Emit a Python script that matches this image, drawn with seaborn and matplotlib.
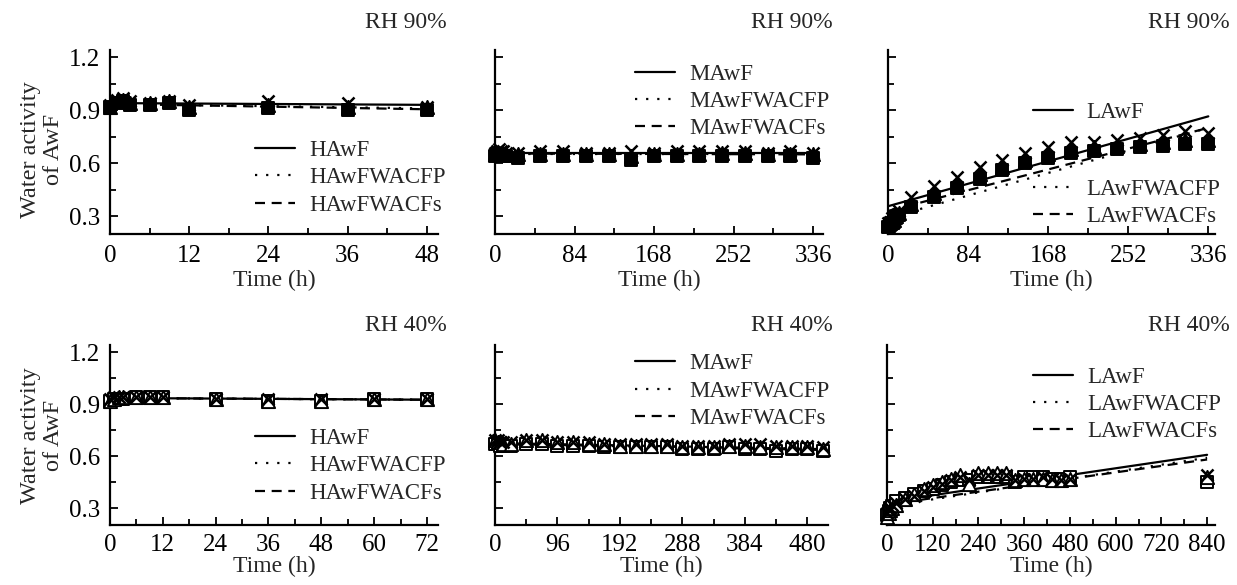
import matplotlib
matplotlib.use('Agg')
import matplotlib.pyplot as plt
import seaborn as sns
from matplotlib.lines import Line2D
from matplotlib.ticker import MultipleLocator, FormatStrFormatter

sns.set_theme(style='ticks')
plt.rcParams['font.family'] = ['Liberation Serif', 'DejaVu Serif']

# ---- RH 90% ----
t_h90 = [0, 1, 2, 3, 6, 9, 12, 24, 36, 48]
h90_awf = [0.93, 0.96, 0.97, 0.95, 0.94, 0.95, 0.93, 0.95, 0.94, 0.92]
h90_fp = [0.92, 0.95, 0.96, 0.94, 0.94, 0.95, 0.92, 0.93, 0.92, 0.92]
h90_fs = [0.92, 0.94, 0.95, 0.93, 0.93, 0.94, 0.90, 0.91, 0.90, 0.90]
fit_h90_t = [0, 48]
fit_h90_awf = [0.94, 0.93]
fit_h90_fp = [0.935, 0.91]
fit_h90_fs = [0.935, 0.905]

t_m90 = [0, 2, 4, 6, 8, 12, 24, 48, 72, 96, 120, 144, 168, 192, 216, 240, 264, 288, 312, 336]
m90_awf = [0.66, 0.67, 0.68, 0.67, 0.67, 0.66, 0.66, 0.67, 0.67, 0.66, 0.66, 0.67, 0.66, 0.67, 0.67, 0.67, 0.67, 0.66, 0.67, 0.66]
m90_fp = [0.65, 0.66, 0.66, 0.66, 0.65, 0.65, 0.65, 0.65, 0.65, 0.65, 0.65, 0.64, 0.65, 0.65, 0.65, 0.66, 0.66, 0.65, 0.65, 0.65]
m90_fs = [0.64, 0.65, 0.65, 0.64, 0.64, 0.64, 0.63, 0.64, 0.64, 0.64, 0.64, 0.62, 0.64, 0.64, 0.64, 0.64, 0.64, 0.64, 0.64, 0.63]
fit_m90_t = [0, 336]
fit_m90_awf = [0.66, 0.66]
fit_m90_fp = [0.65, 0.65]
fit_m90_fs = [0.655, 0.65]

t_l90 = [0, 2, 4, 6, 8, 12, 24, 48, 72, 96, 120, 144, 168, 192, 216, 240, 264, 288, 312, 336]
l90_awf = [0.26, 0.27, 0.29, 0.30, 0.31, 0.33, 0.41, 0.47, 0.52, 0.58, 0.62, 0.66, 0.69, 0.72, 0.72, 0.73, 0.74, 0.76, 0.78, 0.77]
l90_fp = [0.25, 0.26, 0.27, 0.28, 0.30, 0.32, 0.37, 0.43, 0.48, 0.54, 0.58, 0.62, 0.65, 0.68, 0.69, 0.70, 0.71, 0.72, 0.73, 0.73]
l90_fs = [0.24, 0.25, 0.26, 0.27, 0.29, 0.31, 0.35, 0.41, 0.46, 0.51, 0.56, 0.60, 0.63, 0.66, 0.67, 0.68, 0.69, 0.70, 0.71, 0.71]
fit_l90_t = [0, 336]
fit_l90_awf = [0.357, 0.865]
fit_l90_fp = [0.29, 0.80]
fit_l90_fs = [0.33, 0.80]

# ---- RH 40% ----
t_h40 = [0, 1, 2, 3, 6, 9, 12, 24, 36, 48, 60, 72]
h40_awf = [0.93, 0.94, 0.94, 0.94, 0.94, 0.94, 0.94, 0.93, 0.93, 0.93, 0.93, 0.93]
h40_fp = [0.92, 0.93, 0.94, 0.94, 0.94, 0.94, 0.94, 0.93, 0.92, 0.92, 0.93, 0.93]
h40_fs = [0.92, 0.93, 0.93, 0.93, 0.94, 0.94, 0.94, 0.93, 0.92, 0.92, 0.93, 0.93]
fit_h40_t = [0, 72]
fit_h40_awf = [0.935, 0.925]
fit_h40_fp = [0.935, 0.925]
fit_h40_fs = [0.935, 0.925]

t_m40 = [0, 4, 8, 12, 24, 48, 72, 96, 120, 144, 168, 192, 216, 240, 264, 288, 312, 336,
         360, 384, 408, 432, 456, 480, 504]
m40_awf = [0.69, 0.69, 0.68, 0.68, 0.68, 0.69, 0.69, 0.68, 0.68, 0.68, 0.67, 0.67, 0.67,
           0.67, 0.67, 0.66, 0.66, 0.66, 0.67, 0.67, 0.67, 0.66, 0.66, 0.66, 0.65]
m40_fp = [0.69, 0.68, 0.68, 0.67, 0.67, 0.69, 0.69, 0.68, 0.68, 0.67, 0.67, 0.66, 0.66,
          0.66, 0.66, 0.65, 0.65, 0.65, 0.66, 0.66, 0.65, 0.65, 0.65, 0.65, 0.64]
m40_fs = [0.67, 0.67, 0.66, 0.66, 0.66, 0.67, 0.67, 0.66, 0.66, 0.66, 0.65, 0.65, 0.65,
          0.65, 0.65, 0.64, 0.64, 0.64, 0.65, 0.64, 0.64, 0.63, 0.64, 0.64, 0.63]
fit_m40_t = [0, 504]
fit_m40_awf = [0.675, 0.64]
fit_m40_fp = [0.67, 0.64]
fit_m40_fs = [0.67, 0.635]

t_l40 = [0, 4, 8, 12, 24, 48, 72, 96, 120, 144, 168, 192, 216, 240, 264, 288, 312, 336,
         360, 384, 408, 432, 456, 480, 840]
l40_awf = [0.27, 0.29, 0.30, 0.32, 0.33, 0.35, 0.37, 0.40, 0.42, 0.44, 0.46, 0.48, 0.46,
           0.49, 0.49, 0.49, 0.49, 0.46, 0.47, 0.47, 0.48, 0.47, 0.46, 0.47, 0.49]
l40_fp = [0.25, 0.27, 0.29, 0.30, 0.32, 0.35, 0.38, 0.41, 0.43, 0.45, 0.47, 0.49, 0.44,
          0.50, 0.50, 0.50, 0.50, 0.46, 0.47, 0.47, 0.47, 0.46, 0.46, 0.47, 0.48]
l40_fs = [0.26, 0.28, 0.30, 0.31, 0.34, 0.36, 0.38, 0.40, 0.41, 0.43, 0.45, 0.46, 0.46,
          0.48, 0.48, 0.48, 0.48, 0.45, 0.48, 0.48, 0.48, 0.47, 0.47, 0.48, 0.45]
fit_l40_t = [0, 840]
fit_l40_awf = [0.335, 0.607]
fit_l40_fp = [0.31, 0.59]
fit_l40_fs = [0.32, 0.58]

styles = ['-', (0, (1, 4)), (0, (4.5, 3))]
FS = 16.5
TICK_FS = 18


def draw(ax, t, awf, fp, fs, ft, fa, ffp, ffs, filled):
    face = 'black' if filled else 'white'
    sns.scatterplot(x=t, y=fs, marker='s', s=85, color=face, edgecolor='black',
                    linewidth=1.4, ax=ax, clip_on=False, zorder=3)
    sns.scatterplot(x=t, y=fp, marker='^', s=90, color=face, edgecolor='black',
                    linewidth=1.4, ax=ax, clip_on=False, zorder=4)
    sns.scatterplot(x=t, y=awf, marker='x', s=75, color='black', linewidth=1.8,
                    ax=ax, clip_on=False, zorder=5)
    for yy, ls in zip([fa, ffp, ffs], styles):
        sns.lineplot(x=ft, y=yy, color='black', linewidth=1.6, linestyle=ls, ax=ax, zorder=2)


def style_axis(ax, xmax, major, minor, ylabels, xpad=8, lpad=2):
    ax.set_xlim(0, xmax)
    ax.set_ylim(0.2, 1.24)
    ax.xaxis.set_major_locator(MultipleLocator(major))
    ax.xaxis.set_minor_locator(MultipleLocator(minor))
    ax.yaxis.set_major_locator(MultipleLocator(0.3))
    ax.yaxis.set_minor_locator(MultipleLocator(0.15))
    ax.yaxis.set_major_formatter(FormatStrFormatter('%.1f'))
    ax.tick_params(which='both', direction='in', width=1.3, colors='black', labelsize=TICK_FS)
    ax.tick_params(which='major', length=6, pad=xpad)
    ax.tick_params(which='minor', length=4)
    ax.tick_params(axis='y', labelleft=ylabels, pad=7)
    sns.despine(ax=ax)
    for sp in ['left', 'bottom']:
        ax.spines[sp].set_linewidth(1.6)
        ax.spines[sp].set_color('black')
    ax.set_xlabel('Time (h)', fontsize=FS + 0.5, labelpad=lpad)
    ax.set_ylabel('')


def legend(ax, labels, idx, x, y):
    handles = [Line2D([], [], color='black', lw=1.6, linestyle=styles[i]) for i in idx]
    return ax.legend(handles, labels, loc='upper left', bbox_to_anchor=(x, y),
                     frameon=False, fontsize=FS, handlelength=1.75, handletextpad=0.6,
                     labelspacing=0.27, borderpad=0, borderaxespad=0)


fig = plt.figure(figsize=(12.37, 5.85), dpi=100)
ax1 = fig.add_axes([0.0889, 0.600, 0.2652, 0.3145])
ax2 = fig.add_axes([0.4002, 0.600, 0.2652, 0.3145])
ax3 = fig.add_axes([0.7179, 0.600, 0.2643, 0.3145])
ax4 = fig.add_axes([0.0889, 0.102, 0.2652, 0.308])
ax5 = fig.add_axes([0.4002, 0.102, 0.2692, 0.308])
ax6 = fig.add_axes([0.7171, 0.102, 0.2652, 0.308])

draw(ax1, t_h90, h90_awf, h90_fp, h90_fs, fit_h90_t, fit_h90_awf, fit_h90_fp, fit_h90_fs, True)
draw(ax2, t_m90, m90_awf, m90_fp, m90_fs, fit_m90_t, fit_m90_awf, fit_m90_fp, fit_m90_fs, True)
draw(ax3, t_l90, l90_awf, l90_fp, l90_fs, fit_l90_t, fit_l90_awf, fit_l90_fp, fit_l90_fs, True)
draw(ax4, t_h40, h40_awf, h40_fp, h40_fs, fit_h40_t, fit_h40_awf, fit_h40_fp, fit_h40_fs, False)
draw(ax5, t_m40, m40_awf, m40_fp, m40_fs, fit_m40_t, fit_m40_awf, fit_m40_fp, fit_m40_fs, False)
draw(ax6, t_l40, l40_awf, l40_fp, l40_fs, fit_l40_t, fit_l40_awf, fit_l40_fp, fit_l40_fs, False)

style_axis(ax1, 49.7, 12, 6, True)
style_axis(ax2, 346.6, 84, 42, False)
style_axis(ax3, 343, 84, 42, False)
style_axis(ax4, 74.5, 12, 6, True, xpad=6, lpad=0)
style_axis(ax5, 512, 96, 48, False, xpad=6, lpad=0)
style_axis(ax6, 861, 120, 60, False, xpad=6, lpad=0)

legend(ax1, ['HAwF', 'HAwFWACFP', 'HAwFWACFs'], [0, 1, 2], 0.442, 0.51)
legend(ax2, ['MAwF', 'MAwFWACFP', 'MAwFWACFs'], [0, 1, 2], 0.427, 0.925)
leg = legend(ax3, ['LAwF'], [0], 0.443, 0.72)
ax3.add_artist(leg)
legend(ax3, ['LAwFWACFP', 'LAwFWACFs'], [1, 2], 0.443, 0.30)
legend(ax4, ['HAwF', 'HAwFWACFP', 'HAwFWACFs'], [0, 1, 2], 0.442, 0.54)
legend(ax5, ['MAwF', 'MAwFWACFP', 'MAwFWACFs'], [0, 1, 2], 0.421, 0.955)
legend(ax6, ['LAwF', 'LAwFWACFP', 'LAwFWACFs'], [0, 1, 2], 0.445, 0.88)

for ax, xr in [(ax1, 1.027), (ax2, 1.03), (ax3, 1.046)]:
    ax.text(xr, 1.152, 'RH 90%', transform=ax.transAxes, ha='right', va='center', fontsize=FS + 0.5)
for ax, xr in [(ax4, 1.027), (ax5, 1.015), (ax6, 1.046)]:
    ax.text(xr, 1.11, 'RH 40%', transform=ax.transAxes, ha='right', va='center', fontsize=FS + 0.5)

fig.text(0.034, 0.744, 'Water activity\nof AwF', rotation=90, ha='center', va='center',
         fontsize=FS + 1, linespacing=1.15)
fig.text(0.034, 0.255, 'Water activity\nof AwF', rotation=90, ha='center', va='center',
         fontsize=FS + 1, linespacing=1.15)

fig.savefig('out.png', dpi=100)
